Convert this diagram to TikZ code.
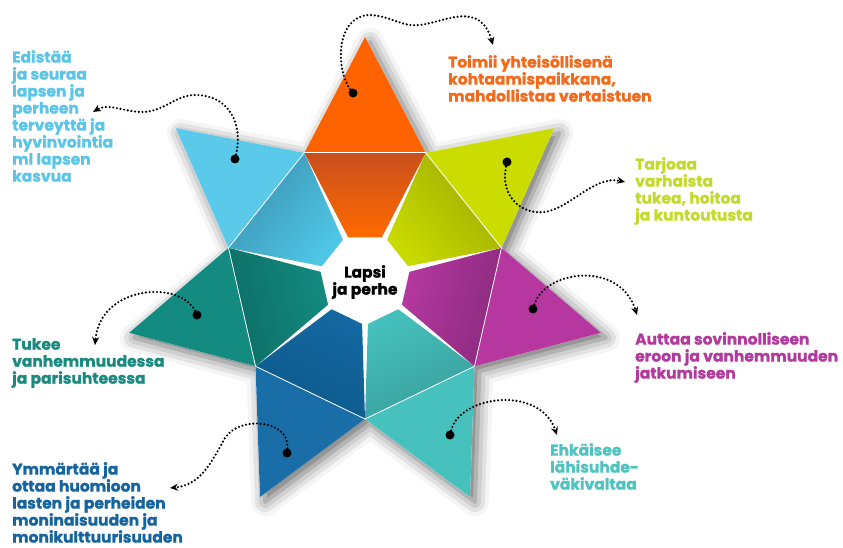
\documentclass[tikz,border=0pt]{standalone}
\usepackage{fontspec}
\setmainfont{Poppins}[BoldFont={Poppins Bold}, BoldFeatures={FakeBold=1.2}]
\usepackage{xcolor}
\usetikzlibrary{arrows.meta,positioning,calc,shadows.blur}

\definecolor{orOut}{HTML}{FF6300}
\definecolor{orDark}{HTML}{C94F1E}
\definecolor{orLight}{HTML}{FF6A00}
\definecolor{lbOut}{HTML}{5BC9E9}
\definecolor{lbDark}{HTML}{3D93B2}
\definecolor{lbLight}{HTML}{4EC6E6}
\definecolor{dtOut}{HTML}{148B81}
\definecolor{dtDark}{HTML}{0C6E66}
\definecolor{dtLight}{HTML}{148A80}
\definecolor{bOut}{HTML}{1A6EA8}
\definecolor{bDark}{HTML}{0D5A8C}
\definecolor{bLight}{HTML}{1467A0}
\definecolor{ltOut}{HTML}{47C1BE}
\definecolor{ltDark}{HTML}{3A9E9C}
\definecolor{ltLight}{HTML}{45C0BC}
\definecolor{mgOut}{HTML}{B5379F}
\definecolor{mgDark}{HTML}{8A2A7E}
\definecolor{mgLight}{HTML}{B5389F}
\definecolor{liOut}{HTML}{CADC00}
\definecolor{liDark}{HTML}{9EAB00}
\definecolor{liLight}{HTML}{C8DA00}

\definecolor{orTxt}{HTML}{F26B1D}
\definecolor{lbTxt}{HTML}{5BC5E8}
\definecolor{dtTxt}{HTML}{1A8A80}
\definecolor{bTxt}{HTML}{16649E}
\definecolor{ltTxt}{HTML}{4EC3BF}
\definecolor{mgTxt}{HTML}{B2399D}
\definecolor{liTxt}{HTML}{C3D92B}

\tikzset{
  blackdot/.style={circle, fill=black, inner sep=0pt, minimum size=9pt},
  conn/.style={line width=2.4pt, dash pattern=on 0pt off 3.7pt, line cap=round,
    -{Stealth[length=8pt,width=7pt]}},
  lbl/.style={anchor=north west, align=left, inner sep=0pt,
    font=\bfseries\fontsize{15.5}{17}\selectfont},
  seam/.style={white, line width=0.8pt},
}

\begin{document}
\begin{tikzpicture}[x=1pt, y=1pt]
\useasboundingbox (0,0) rectangle (843,-548);

% The star
\begin{scope}[shift={(365,-279)}]
  \fill[white, blur shadow={shadow xshift=5pt, shadow yshift=-5pt,
      shadow blur radius=14pt, shadow opacity=60}]
    (90:242) \foreach \k in {0,...,6}{
      -- ({90+\k*360/7+180/7}:140) -- ({90+(\k+1)*360/7}:242)} -- cycle;
  \foreach \k/\col in {0/or, 1/lb, 2/dt, 3/b, 4/lt, 5/mg, 6/li}{
    \pgfmathsetmacro\t{90+\k*360/7}
    \pgfmathsetmacro\sa{\t-90}
    \fill[\col Out] (\t:242) -- ({\t+180/7}:140) -- ({\t-180/7}:140) -- cycle;
    \shade[top color=\col Dark, bottom color=\col Light, shading angle=\sa]
      ({\t+180/7}:140) -- ({\t+22}:45) -- ({\t-22}:45) -- ({\t-180/7}:140) -- cycle;
    \draw[seam] ({\t+180/7}:140) -- ({\t-180/7}:140);
  }
\end{scope}

\node[align=center, inner sep=0pt, font=\bfseries\fontsize{15.5}{17}\selectfont]
  (core) at (365,-282) {Lapsi\\ja perhe};

% Dots
\node[blackdot] (dotO) at (353,-93) {};
\node[blackdot] (dotLB) at (235,-159) {};
\node[blackdot] (dotLi) at (507,-162) {};
\node[blackdot] (dotM) at (533,-309) {};
\node[blackdot] (dotLT) at (450,-435) {};
\node[blackdot] (dotB) at (287,-453) {};
\node[blackdot] (dotDT) at (197,-315) {};

% Texts
\node[lbl, text=lbTxt] (txtLB) at (12,-50) {Edistää\\ja seuraa\\lapsen ja\\perheen\\terveyttä ja\\hyvinvointia\\ml lapsen\\kasvua};
\node[lbl, text=orTxt] (txtO) at (448,-55) {Toimii yhteisöllisenä\\kohtaamispaikkana,\\mahdollistaa vertaistuen};
\node[lbl, text=liTxt] (txtLi) at (635,-157) {Tarjoaa\\varhaista\\tukea, hoitoa\\ja kuntoutusta};
\node[lbl, text=mgTxt] (txtM) at (635,-332) {Auttaa sovinnolliseen\\eroon ja vanhemmuuden\\jatkumiseen};
\node[lbl, text=ltTxt] (txtLT) at (550,-443) {Ehkäisee\\lähisuhde-\\väkivaltaa};
\node[lbl, text=dtTxt] (txtDT) at (12,-338) {Tukee\\vanhemmuudessa\\ja parisuhteessa};
\node[lbl, text=bTxt] (txtB) at (12,-462) {Ymmärtää ja\\ottaa huomioon\\lasten ja perheiden\\moninaisuuden ja\\monikulttuurisuuden};

% Arrow ends
\coordinate (tipO) at (493,-45);
\coordinate (tipLB) at (93,-112);
\coordinate (tipLi) at (625,-182);
\coordinate (tipM) at (637,-315);
\coordinate (tipLT) at (557,-435);
\coordinate (tipB) at (170,-488);
\coordinate (tipDT) at (95,-345);

% Connectors
\draw[conn] (dotO) .. controls (336,-70) and (335,-18) .. (368,-15)
  .. controls (390,-15) and (400,-27) .. (420,-25)
  .. controls (445,-22) and (480,0) .. (tipO);
\draw[conn] (dotLB) .. controls (243,-125) and (230,-95) .. (195,-95)
  .. controls (175,-95) and (163,-113) .. (140,-112)
  .. controls (122,-111) and (108,-103) .. (tipLB);
\draw[conn] (dotLi) .. controls (500,-195) and (520,-215) .. (545,-212)
  .. controls (570,-208) and (595,-175) .. (tipLi);
\draw[conn] (dotM) .. controls (545,-270) and (620,-260) .. (tipM);
\draw[conn] (dotLT) .. controls (460,-395) and (540,-385) .. (tipLT);
\draw[conn] (dotDT) .. controls (180,-280) and (100,-285) .. (tipDT);
\draw[conn] (dotB) .. controls (290,-420) and (240,-415) .. (225,-438)
  .. controls (210,-465) and (200,-485) .. (tipB);

\end{tikzpicture}
\end{document}
